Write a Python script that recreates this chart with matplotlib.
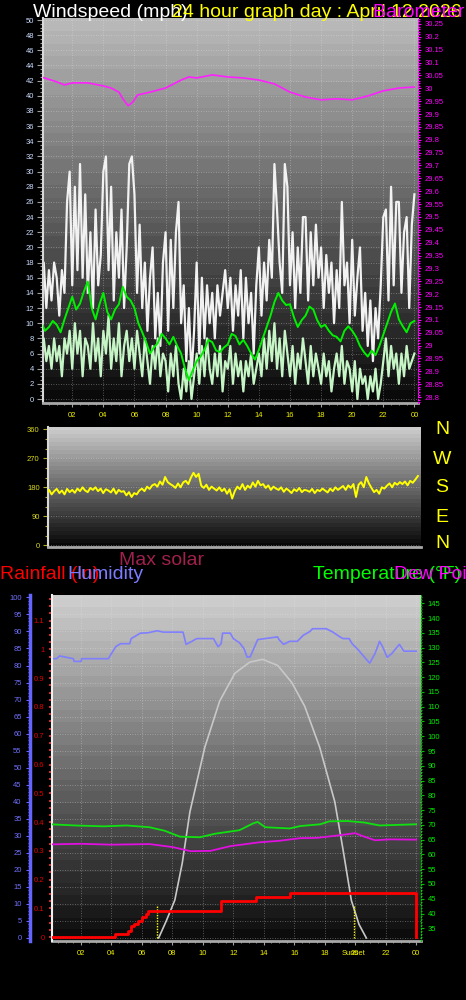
import numpy as np
import matplotlib.pyplot as plt
from matplotlib.ticker import MultipleLocator, FuncFormatter

plt.rcParams['font.family'] = ['Liberation Sans', 'DejaVu Sans']

# ---------------- data ----------------
# wind gust and wind speed, 10 minute samples 00:00 -> 24:00 (mph)
wind_gust = [14, 18, 12, 17, 13, 18, 16, 11, 17, 14, 26, 30,
             15, 28, 17, 31, 16, 27, 14, 22, 12, 25, 15, 19,
             30, 32, 17, 28, 13, 22, 16, 25, 12, 20, 31, 32,
             27, 14, 23, 12, 18, 9, 16, 20, 8, 14, 7, 18,
             22, 9, 21, 12, 22, 26, 10, 15, 5, 12, 3, 9,
             18, 6, 16, 8, 15, 10, 14, 8, 15, 11, 14, 17,
             12, 16, 9, 15, 11, 17, 8, 16, 10, 14, 6, 15,
             20, 11, 18, 13, 21, 16, 31, 25, 18, 14, 31, 28,
             15, 22, 12, 20, 14, 24, 24, 13, 22, 15, 23, 16,
             20, 12, 19, 14, 18, 10, 17, 12, 26, 15, 18, 10,
             21, 11, 16, 20, 9, 14, 7, 13, 5, 12, 8, 15,
             24, 25, 13, 28, 15, 26, 26, 14, 22, 24, 12, 23, 27]
wind_speed = [6, 8, 5, 7, 4, 8, 5, 7, 3, 8, 6, 9,
              4, 10, 6, 9, 3, 8, 7, 4, 10, 5, 8, 3,
              9, 6, 11, 4, 8, 5, 10, 3, 7, 9, 5, 8,
              4, 9, 6, 3, 8, 5, 2, 7, 4, 8, 3, 6,
              5, 1, 6, 3, 7, 2, 0, 4, 1, 5, 0, 3,
              6, 2, 7, 3, 8, 4, 2, 6, 3, 7, 1, 5,
              4, 7, 2, 6, 3, 5, 1, 5, 3, 6, 2, 4,
              6, 3, 8, 4, 9, 5, 10, 4, 8, 3, 9, 6,
              3, 7, 2, 6, 4, 8, 5, 2, 7, 3, 6, 4,
              2, 6, 3, 5, 1, 4, 6, 3, 7, 2, 5, 4,
              1, 5, 0, 4, 2, 3, 0, 3, 1, 4, 0, 2,
              5, 8, 3, 7, 4, 6, 2, 6, 3, 7, 4, 5, 6]
# average wind, 15 minute samples (mph)
wind_avg = [10.2, 9.0, 9.5, 10.3, 9.8, 8.8, 10.5, 12.0, 13.5, 11.8,
            12.6, 14.2, 15.5, 12.0, 10.5, 12.5, 14.0, 11.5, 10.5, 11.8,
            12.5, 14.8, 13.5, 13.0, 12.0, 10.0, 8.8, 7.5, 6.0, 6.8,
            7.4, 8.6, 8.0, 7.2, 8.2, 7.0, 6.0, 4.0, 2.5, 3.8,
            5.0, 5.6, 6.5, 7.8, 7.5, 6.4, 6.2, 6.8, 7.2, 8.6,
            8.3, 7.2, 7.8, 7.0, 6.0, 5.2, 6.5, 8.0, 9.5, 11.0,
            12.8, 14.0, 13.0, 12.4, 12.5, 10.8, 9.5, 10.4, 11.0, 12.2,
            11.8, 10.4, 9.5, 9.8, 9.0, 8.4, 8.2, 7.6, 9.0, 9.6,
            9.0, 8.2, 7.0, 6.2, 5.6, 6.4, 5.8, 7.0, 8.5, 10.0,
            11.5, 12.6, 10.5, 9.6, 8.8, 10.0, 10.3]
# barometer (inHg)
baro_hours = [0, 1, 1.5, 2, 3, 4, 4.5, 5, 5.3, 5.6, 5.9, 6.2, 7, 8, 9, 9.5,
              10, 11, 12, 13, 14, 15, 16, 17, 18, 19, 20, 21, 22, 23, 24]
barometer = [30.044, 30.025, 30.013, 30.021, 30.021, 30.009, 30.001, 29.985,
             29.955, 29.932, 29.947, 29.974, 29.985, 30.001, 30.032, 30.044,
             30.040, 30.052, 30.044, 30.040, 30.032, 30.017, 29.985, 29.966,
             29.955, 29.959, 29.955, 29.970, 29.990, 30.001, 30.005]
# wind direction, 10 minute samples (degrees)
wind_dir = [160, 172, 158, 168, 175, 162, 170, 158, 175, 165, 172, 163,
            176, 168, 180, 170, 165, 178, 172, 180, 168, 176, 162, 174,
            170, 164, 176, 160, 172, 166, 168, 155, 165, 150, 162, 158,
            170, 176, 168, 182, 175, 186, 190, 182, 198, 188, 212, 196,
            190, 185, 178, 192, 180, 195, 200, 190, 210, 225, 212, 222,
            185, 178, 188, 172, 182, 176, 170, 180, 168, 176, 160, 174,
            145, 168, 182, 174, 190, 172, 185, 178, 195, 182, 200, 186,
            190, 178, 186, 172, 182, 176, 172, 180, 166, 176, 170, 162,
            174, 168, 178, 165, 172, 170, 166, 175, 162, 172, 168, 176,
            170, 164, 176, 168, 180, 172, 178, 184, 172, 186, 178, 190,
            150, 188, 196, 180, 212, 192, 178, 165, 172, 160, 180, 176,
            185, 192, 180, 194, 188, 196, 190, 198, 186, 200, 194, 204, 215]
# humidity (%)
hum_hours = [0, 0.4, 0.6, 1.5, 1.55, 2.0, 2.05, 3.8, 4.0, 4.3, 4.6, 5.2, 5.3, 5.9, 6.4,
             7.0, 7.4, 8.7, 8.9, 9.2, 9.6, 10.7, 11.0, 11.2, 11.3, 11.8, 12.0, 12.4, 12.7,
             12.9, 13.1, 13.3, 13.6, 14.9, 15.0, 15.3, 15.7, 16.2, 16.6, 17.0, 17.2, 18.1,
             18.5, 19.0, 19.2, 19.6, 19.8, 20.2, 20.6, 20.95, 21.3, 21.6, 21.8, 22.1, 22.4,
             22.9, 23.2, 24.0]
humidity = [82.0, 82.0, 82.8, 82.0, 81.2, 81.2, 82.0, 82.0, 83.5, 85.6, 86.4, 86.4, 87.9,
            89.5, 89.6, 90.2, 89.8, 89.8, 86.2, 86.9, 87.9, 87.9, 85.5, 86.4, 89.5, 89.5,
            87.9, 86.7, 85.0, 82.5, 82.5, 84.5, 87.6, 88.4, 87.6, 86.2, 87.1, 87.1, 88.9,
            89.9, 90.8, 90.8, 89.9, 88.4, 87.9, 87.9, 86.4, 84.6, 82.5, 80.7, 83.5, 87.1,
            85.5, 82.4, 83.5, 86.2, 84.2, 84.2]
# temperature and dew point (F)
temp_hours = [0, 1.6, 3.5, 5.0, 6.5, 7.5, 8.5, 9.8, 10.8, 12.4, 13.3, 13.6, 14.1,
              15.7, 16.4, 17.7, 18.3, 19.5, 20.6, 21.6, 22.8, 24.0]
temperature = [70.2, 69.8, 69.5, 69.8, 69.2, 68.0, 66.0, 65.8, 67.0, 68.2, 70.5, 71.0,
               69.2, 68.8, 69.6, 70.2, 71.2, 71.3, 70.8, 69.8, 70.0, 70.2]
dew_hours = [0, 2, 4, 6.5, 8.0, 9.2, 10.5, 11.8, 13.7, 15.0, 16.4, 17.5, 19.0,
             20.0, 20.6, 21.3, 22.3, 24.0]
dew_point = [63.4, 63.6, 63.3, 63.5, 62.5, 61.1, 61.2, 62.8, 64.1, 64.6, 65.5, 65.6,
             66.5, 67.2, 66.0, 64.8, 65.1, 65.0]
# rainfall (in), cumulative
rain_hours = [0, 4.23, 5.1, 5.3, 5.45, 5.75, 6.0, 6.3, 6.4, 11.2, 13.5, 15.7, 24.0]
rain = [0, 0.012, 0.021, 0.038, 0.047, 0.058, 0.072, 0.080, 0.090, 0.125, 0.14, 0.155, 0.0]
# max solar curve (on the humidity scale)
solar_hours = [7.1, 7.6, 8.16, 8.65, 9.15, 10.13, 11.1, 12.1, 13.08, 13.93, 14.92,
               15.84, 16.69, 17.67, 18.66, 19.2, 19.75, 20.25, 20.73]
solar_max = [0, 5, 11.1, 22, 37, 56, 69.5, 77.7, 81, 81.8, 80, 75, 68, 56, 40, 26, 11, 4, 0]
sunrise, sunset = 6.98, 19.9

hour_ticks = list(range(2, 25, 2))
hour_labels = ['02', '04', '06', '08', '10', '12', '14', '16', '18', '20', '22', '00']

# ---------------- figure ----------------
W, H = 466, 1000
fig = plt.figure(figsize=(W / 100, H / 100), dpi=100, facecolor='black')


def box(x0, y0, x1, y1):
    return [x0 / W, 1 - y1 / H, (x1 - x0) / W, (y1 - y0) / H]


def shade(ax, top, bottom):
    g = np.linspace(top, bottom, 30).reshape(-1, 1)
    ax.imshow(g, cmap='gray', vmin=0, vmax=1, aspect='auto', interpolation='nearest',
              extent=(0, 1, 0, 1), transform=ax.transAxes, zorder=0)


def frame(ax):
    ax.set_facecolor('black')
    for s in ('top', 'right'):
        ax.spines[s].set_visible(False)
    ax.spines['left'].set_color('#d8d8d8')
    ax.spines['left'].set_linewidth(1.5)
    ax.spines['bottom'].set_color('#a8a8a8')
    ax.spines['bottom'].set_linewidth(2)


def hide(ax, keep):
    for s in ('top', 'bottom', 'left', 'right'):
        if s != keep:
            ax.spines[s].set_visible(False)


grid_kw = dict(color='#e8e8e8', ls=(0, (1, 2)), lw=0.6, alpha=0.45)

# wind speed panel
ax1 = fig.add_axes(box(42.7, 17.5, 418.3, 402.5))
frame(ax1)
shade(ax1, 0.72, 0.04)
t10 = np.linspace(0, 24, len(wind_gust))
ax1.plot(t10, wind_gust, color='#f2f2f2', lw=1.6, zorder=2)
ax1.plot(t10, wind_speed, color='#c6f5c6', lw=1.6, zorder=3)
ax1.plot(np.linspace(0, 24, len(wind_avg)), wind_avg, color='#00f000', lw=1.4, zorder=4)
ax1.set_xlim(0.1, 24.25)
ax1.set_ylim(-0.46, 50.33)
ax1.yaxis.set_major_locator(MultipleLocator(2))
ax1.yaxis.set_minor_locator(MultipleLocator(0.5))
ax1.set_xticks(hour_ticks, hour_labels)
ax1.xaxis.set_minor_locator(MultipleLocator(0.5))
ax1.grid(True, **grid_kw)
ax1.tick_params(axis='y', which='both', color='#a0a0a0', labelcolor='#c8dcff',
                labelsize=5.5, length=4.3, width=0.8, pad=2)
ax1.tick_params(axis='y', which='minor', length=2)
ax1.tick_params(axis='x', which='both', color='#a0a0a0', labelcolor='#f0f000',
                labelsize=5.5, length=3, pad=4)
ax1.tick_params(axis='x', which='minor', length=1.5)

ax1b = ax1.twinx()
ax1b.plot(baro_hours, barometer, color='#ff20ff', lw=1.2, zorder=5)
ax1b.set_ylim(28.779, 30.275)
ax1b.yaxis.set_major_locator(MultipleLocator(0.05))
ax1b.yaxis.set_minor_locator(MultipleLocator(0.01))
ax1b.yaxis.set_major_formatter(FuncFormatter(lambda v, p: f'{round(v, 2):g}'))
ax1b.tick_params(axis='y', which='both', color='#ff00ff', labelcolor='#ff00ff',
                 labelsize=5.5, length=2.5, width=0.8, pad=2)
ax1b.tick_params(axis='y', which='minor', length=1.2)
hide(ax1b, 'right')
ax1b.spines['right'].set_color('#ff00ff')
ax1b.spines['right'].set_linestyle(':')

# wind direction panel
ax2 = fig.add_axes(box(48, 426.7, 421, 547.3))
frame(ax2)
shade(ax2, 0.8, 0.03)
ax2.plot(np.linspace(0, 24, len(wind_dir)), wind_dir, color='#ffff00', lw=1.4, zorder=3)
ax2.set_xlim(0.1, 24.2)
ax2.set_ylim(-6.2, 368)
ax2.set_yticks([0, 90, 180, 270, 360])
ax2.yaxis.set_minor_locator(MultipleLocator(30))
ax2.set_xticks([])
ax2.grid(True, axis='y', **grid_kw)
ax2.tick_params(axis='y', which='both', color='#b0b020', labelcolor='#d8d820',
                labelsize=5.5, length=3.5, width=0.8, pad=2.5)
ax2.tick_params(axis='y', which='minor', length=2)

for txt, yy in zip('NWSEN', [429, 459, 488, 517, 544]):
    fig.text(442 / W, 1 - yy / H, txt, color='#ffff00', fontsize=14, ha='center', va='center')

# rain / humidity / temperature panel
ax3 = fig.add_axes(box(51.7, 595, 420.7, 940.7))
frame(ax3)
shade(ax3, 0.8, 0.05)
ax3.plot(hum_hours, humidity, color='#7f7fff', lw=1.2, zorder=3)
ax3.plot(solar_hours, solar_max, color='#c8c8c8', lw=1.2, zorder=3)
ax3.vlines([sunrise, sunset], 0, 9.5, colors='#ffff00', linestyles=(0, (1, 1)), lw=1, zorder=3)
ax3.set_xlim(0.08, 24.3)
ax3.set_ylim(-0.8, 100.7)
ax3.yaxis.set_major_locator(MultipleLocator(5))
ax3.yaxis.set_minor_locator(MultipleLocator(1))
ax3.set_xticks(hour_ticks, hour_labels)
ax3.xaxis.set_minor_locator(MultipleLocator(0.5))
ax3.grid(True, **grid_kw)
ax3.spines['left'].set_position(('outward', 15.6))
ax3.spines['left'].set_color('#6464ff')
ax3.spines['left'].set_linewidth(2.5)
ax3.tick_params(axis='y', which='both', color='#6464ff', labelcolor='#7070ff',
                labelsize=5.5, length=3, width=0.8, pad=3)
ax3.tick_params(axis='y', which='minor', length=1.5)
ax3.tick_params(axis='x', which='both', color='#a0a0a0', labelcolor='#f0f000',
                labelsize=5.5, length=3, pad=4)
ax3.tick_params(axis='x', which='minor', length=1.5)
ax3.text(sunset, -0.036, 'Sunset', transform=ax3.get_xaxis_transform(), color='#f0f000',
         fontsize=5.5, ha='center', va='center')

ax4 = ax3.twinx()
ax4.step(rain_hours, rain, where='post', color='#ff0000', lw=2, zorder=4)
ax4.set_ylim(-0.012, 1.189)
ax4.yaxis.tick_left()
ax4.yaxis.set_major_locator(MultipleLocator(0.1))
ax4.yaxis.set_minor_locator(MultipleLocator(0.025))
ax4.yaxis.set_major_formatter(FuncFormatter(lambda v, p: f'{round(v, 1):g}'))
ax4.tick_params(axis='y', which='both', color='#ff3030', labelcolor='#e00000',
                labelsize=5.5, length=2.2, width=1.2, pad=3)
hide(ax4, 'left')
ax4.spines['left'].set_color('#f0f0f0')
ax4.spines['left'].set_linewidth(1.5)

ax5 = ax3.twinx()
ax5.plot(temp_hours, temperature, color='#10e010', lw=1.3, zorder=4)
ax5.plot(dew_hours, dew_point, color='#e010e0', lw=1.3, zorder=4)
ax5.set_ylim(30.8, 147.8)
ax5.yaxis.set_major_locator(MultipleLocator(5))
ax5.yaxis.set_minor_locator(MultipleLocator(1))
ax5.tick_params(axis='y', which='both', color='#00c000', labelcolor='#00ee00',
                labelsize=5.5, length=2.2, width=0.8, pad=3)
ax5.tick_params(axis='y', which='minor', length=1)
hide(ax5, 'right')
ax5.spines['right'].set_color('#00d000')
ax5.spines['right'].set_linestyle(':')

# headings (they overlap each other in the original too)
def head(x, y, s, c):
    fig.text(x / W, 1 - y / H, s, color=c, fontsize=14, ha='left', va='baseline')


head(33, 17, 'Windspeed (mph)', 'white')
head(172, 17, '24 hour graph day : April 12 2026', '#ffff00')
head(373, 17, 'Barometer (inHg)', '#ff00ff')
head(119, 565, 'Max solar', '#a0204e')
head(0, 579, 'Rainfall (in)', '#ff0000')
head(67, 579, 'Humidity', '#7b7bff')
head(313, 579, 'Temperature (\u00b0F)', '#00ff00')
head(394, 579, 'Dew Point', '#ff00ff')

fig.savefig('out.png', dpi=100, facecolor='black')
